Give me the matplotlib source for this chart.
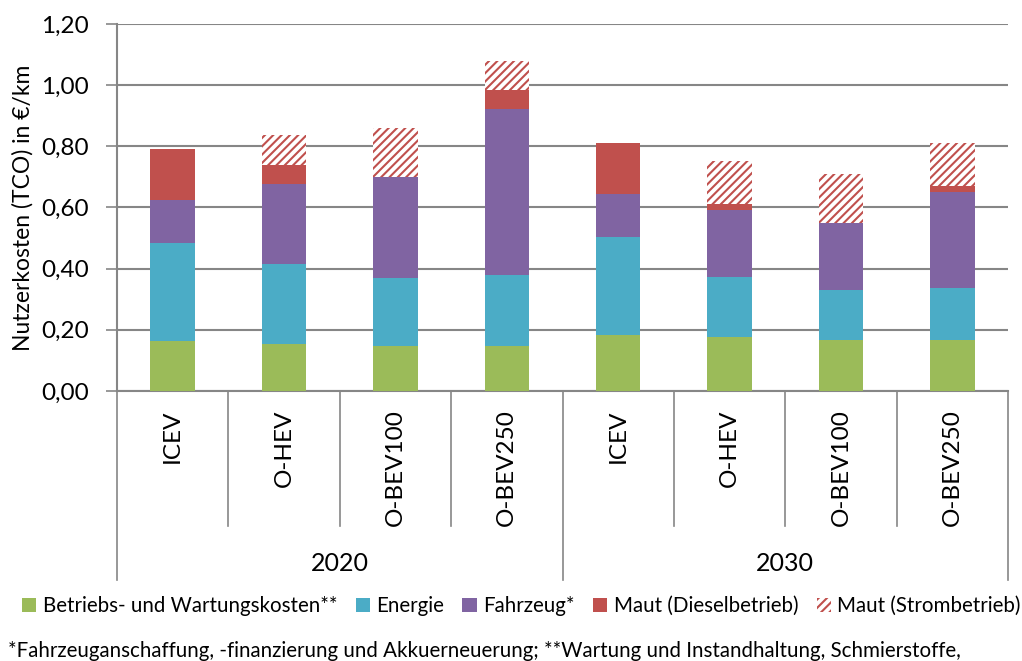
import matplotlib
matplotlib.use("Agg")
import matplotlib.pyplot as plt
import matplotlib.transforms as mtransforms
from matplotlib.patches import Patch
import numpy as np

plt.rcParams['font.family'] = ['Lato', 'DejaVu Sans']
plt.rcParams['hatch.linewidth'] = 1.5

# Fahrzeugkonzepte und Jahre
fahrzeuge = ['ICEV', 'O-HEV', 'O-BEV100', 'O-BEV250',
             'ICEV', 'O-HEV', 'O-BEV100', 'O-BEV250']
jahre = ['2020', '2030']

# Kostenbestandteile in EUR/km
betrieb = [0.163, 0.155, 0.147, 0.147, 0.183, 0.177, 0.168, 0.168]
energie = [0.321, 0.261, 0.223, 0.233, 0.321, 0.195, 0.161, 0.170]
fahrzeug = [0.139, 0.261, 0.331, 0.541, 0.139, 0.221, 0.221, 0.314]
maut_diesel = [0.169, 0.062, 0.0, 0.063, 0.168, 0.017, 0.0, 0.018]
maut_strom = [0.0, 0.097, 0.159, 0.096, 0.0, 0.142, 0.159, 0.141]

farben = ['#9BBB59', '#4BACC6', '#8064A2', '#C0504D']
namen = ['Betriebs- und Wartungskosten**', 'Energie', 'Fahrzeug*',
         'Maut (Dieselbetrieb)', 'Maut (Strombetrieb)']

fig = plt.figure(figsize=(10.22, 6.61), dpi=100)
ax = fig.add_axes([117 / 1022, 1 - 391 / 661, 891 / 1022, 367 / 661])

x = np.arange(len(fahrzeuge))
unten = np.zeros(len(x))
for werte, farbe in zip([betrieb, energie, fahrzeug, maut_diesel], farben):
    ax.bar(x, werte, 0.4, bottom=unten, color=farbe, zorder=3)
    unten += np.array(werte)
# Maut im Strombetrieb schraffiert
ax.bar(x, maut_strom, 0.4, bottom=unten, facecolor='white',
       edgecolor='#C0504D', hatch='////', linewidth=0, zorder=3)

grau = '#868686'
ax.set_ylim(0, 1.2)
ax.set_xlim(-0.5, 7.5)
ax.set_yticks(np.arange(0, 1.21, 0.2))
ax.set_yticklabels([f'{v:.2f}'.replace('.', ',') for v in np.arange(0, 1.21, 0.2)],
                   fontsize=17.5)
ax.yaxis.grid(True, color=grau, linewidth=1.5, zorder=0)
ax.tick_params(axis='y', length=8, width=1.2, color=grau, pad=12)
ax.set_xticks([])
for s in ['top', 'right']:
    ax.spines[s].set_visible(False)
for s in ['left', 'bottom']:
    ax.spines[s].set_color(grau)
    ax.spines[s].set_linewidth(1.5)
ax.set_ylabel('Nutzerkosten (TCO) in €/km', fontsize=16.5, labelpad=6)

# mehrstufige Kategorieachse
trans = mtransforms.blended_transform_factory(ax.transData, ax.transAxes)
for g in [0.5, 1.5, 2.5, 4.5, 5.5, 6.5]:
    ax.plot([g, g], [0, -0.368], color=grau, lw=1.2, transform=trans, clip_on=False)
for g in [-0.5, 3.5, 7.5]:
    ax.plot([g, g], [0, -0.515], color=grau, lw=1.2, transform=trans, clip_on=False)
for i, name in enumerate(fahrzeuge):
    ax.text(i, -0.05, name, rotation=90, ha='center', va='top',
            fontsize=17.5, transform=trans)
for j, jahr in enumerate(jahre):
    ax.text(1.5 + 4 * j, -0.469, jahr, ha='center', va='center',
            fontsize=18, transform=trans)

griffe = [Patch(facecolor=f) for f in farben]
griffe.append(Patch(facecolor='white', edgecolor='#C0504D', hatch='////', linewidth=0))
fig.legend(griffe, namen, loc='center', bbox_to_anchor=(0.51, 1 - 606 / 661),
           ncol=5, frameon=False, fontsize=14.8, handlelength=0.7, handleheight=0.7,
           handletextpad=0.3, columnspacing=0.9, borderpad=0.1)

fig.text(8 / 1022, 1 - 651 / 661,
         '*Fahrzeuganschaffung, -finanzierung und Akkuerneuerung; '
         '**Wartung und Instandhaltung, Schmierstoffe,',
         fontsize=14.8, va='center', ha='left')

fig.savefig('out.png', dpi=100)
